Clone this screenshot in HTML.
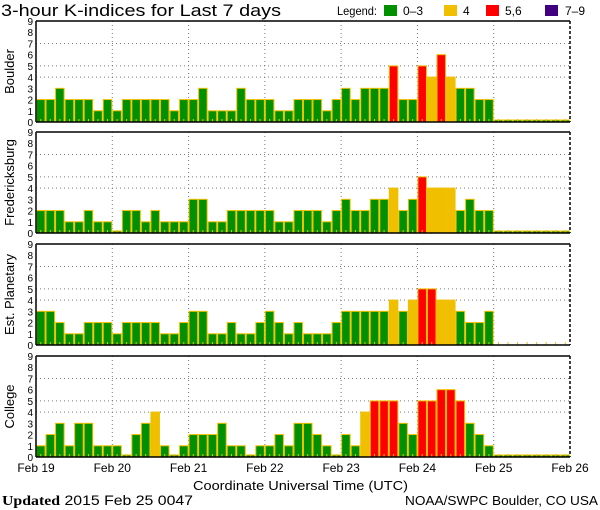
<!DOCTYPE html>
<html><head><meta charset="utf-8"><style>
body{margin:0;background:#fff;width:600px;height:510px;overflow:hidden}
svg{display:block;font-family:"Liberation Sans",sans-serif}
</style></head><body>
<svg id="c" width="600" height="510" xmlns="http://www.w3.org/2000/svg">
<text x="1" y="16" font-size="17" textLength="280" lengthAdjust="spacingAndGlyphs">3-hour K-indices for Last 7 days</text>
<g font-size="12">
<text x="337" y="15" textLength="40" lengthAdjust="spacingAndGlyphs">Legend:</text>
<rect x="384" y="5" width="13" height="11" fill="#009000"/>
<text x="403" y="15">0–3</text>
<rect x="444" y="5" width="13" height="11" fill="#f0c000"/>
<text x="463" y="15">4</text>
<rect x="486" y="5" width="13" height="11" fill="#ff0000"/>
<text x="505" y="15">5,6</text>
<rect x="545" y="5" width="13" height="11" fill="#400080"/>
<text x="565" y="15">7–9</text>
</g>
<text x="193" y="490" font-size="13" textLength="215" lengthAdjust="spacingAndGlyphs">Coordinate Universal Time (UTC)</text>
<text x="2" y="505" font-size="14" textLength="191" lengthAdjust="spacingAndGlyphs"><tspan font-family="Liberation Serif,serif" font-weight="bold">Updated</tspan> 2015 Feb 25 0047</text>
<text x="405" y="505" font-size="13" textLength="193" lengthAdjust="spacingAndGlyphs">NOAA/SWPC Boulder, CO USA</text>
</svg>
<script>
const stations = ["Boulder","Fredericksburg","Est. Planetary","College"];
const dayLabels = ["Feb 19","Feb 20","Feb 21","Feb 22","Feb 23","Feb 24","Feb 25","Feb 26"];
const yTicks = [0,1,2,3,4,5,6,7,8,9];
const boulder = [2,2,3,2,2,2,1,2, 1,2,2,2,2,2,1,2, 2,3,1,1,1,3,2,2, 2,1,1,2,2,2,1,2, 3,2,3,3,3,5,2,2, 5,4,6,4,3,3,2,2, 0,0,0,0,0,0,0,0];
const fredericksburg = [2,2,2,1,1,2,1,1, 0,2,2,1,2,1,1,1, 3,3,1,1,2,2,2,2, 2,1,1,2,2,2,1,2, 3,2,2,3,3,4,2,3, 5,4,4,4,2,3,2,2, 0,0,0,0,0,0,0,0];
const planetary = [3,3,2,1,1,2,2,2, 1,2,2,2,2,1,1,2, 3,3,1,1,2,1,1,2, 3,2,1,2,1,1,1,2, 3,3,3,3,3,4,3,4, 5,5,4,4,3,2,2,3, null,null,null,null,null,null,null,null];
const college = [1,2,3,1,3,3,1,1, 1,0,2,3,4,1,0,1, 2,2,2,3,1,1,0,1, 1,2,1,3,3,2,1,0, 2,1,4,5,5,5,3,2, 5,5,6,6,5,3,2,1, 0,0,0,0,0,0,0,0];
const series = [boulder,fredericksburg,planetary,college];

const svg=document.getElementById('c');
const NS="http://www.w3.org/2000/svg";
const X0=36,X1=570,NB=56;
const tops=[21,132,244,356], H=101;
const bw=(X1-X0)/NB;
function xs(i){return X0+i*bw;}
function mk(t,a,p){const e=document.createElementNS(NS,t);for(const k in a)e.setAttribute(k,a[k]);(p||svg).appendChild(e);return e;}
function color(v){return v>=7?"#400080":v>=5?"#ff0000":v>=4?"#f0c000":"#009000";}

series.forEach((data,p)=>{
  const top=tops[p], base=top+H, u=H/9;
  const ys=v=>base-v*u;
  const g=mk('g',{});
  
  
  [4,5,7].forEach(v=>{
    const l=mk('line',{x1:X0,x2:X1,y1:ys(v),y2:ys(v),stroke:'#777','stroke-dasharray':'1,3'},g);
    
    
  });
  for(let d=1;d<7;d++){
    const x=xs(d*8);
    const l=mk('line',{x1:x,x2:x,y1:top,y2:base,stroke:'#777','stroke-dasharray':'1,3'},g);
    
    
  }
  data.forEach((v,i)=>{
    if(v===null)return;
    const h=v===0?2:v*u;
    const r=mk('rect',{x:xs(i)+0.5,y:base-h,width:bw-1,height:h,fill:color(v),stroke:'#f0c000','stroke-width':1},g);
    
    
  });
  for(let i=0;i<NB;i++){
    mk('line',{x1:xs(i)+bw/2,x2:xs(i)+bw/2,y1:base-3,y2:base,stroke:'#f0c000'},g);
  }
  mk('line',{x1:X0,x2:X1,y1:top,y2:top,stroke:'#000','stroke-width':1.5},g);
  mk('line',{x1:X0,x2:X1,y1:base,y2:base,stroke:'#000','stroke-width':1.5},g);
  mk('line',{x1:X0,x2:X0,y1:top,y2:base,stroke:'#000','stroke-width':1.5},g);
  mk('line',{x1:X1,x2:X1,y1:top,y2:base,stroke:'#000','stroke-width':1.5,'stroke-dasharray':'3,2'},g);
  yTicks.forEach(v=>{
    const t=mk('text',{x:33,y:ys(v)+4,'font-size':10,'text-anchor':'end'},g);
    t.textContent=v;
    
    
  });
  const cy=top+H/2;
  const t=mk('text',{x:14,y:cy,'font-size':13,'text-anchor':'middle',transform:'rotate(-90 14 '+cy+')'},g);
  t.textContent=stations[p];
  
  
});
dayLabels.forEach((s,d)=>{
  const t=mk('text',{x:xs(d*8),y:472,'font-size':12,'text-anchor':'middle'});
  t.textContent=s;
  
  
});
</script>
</body></html>
